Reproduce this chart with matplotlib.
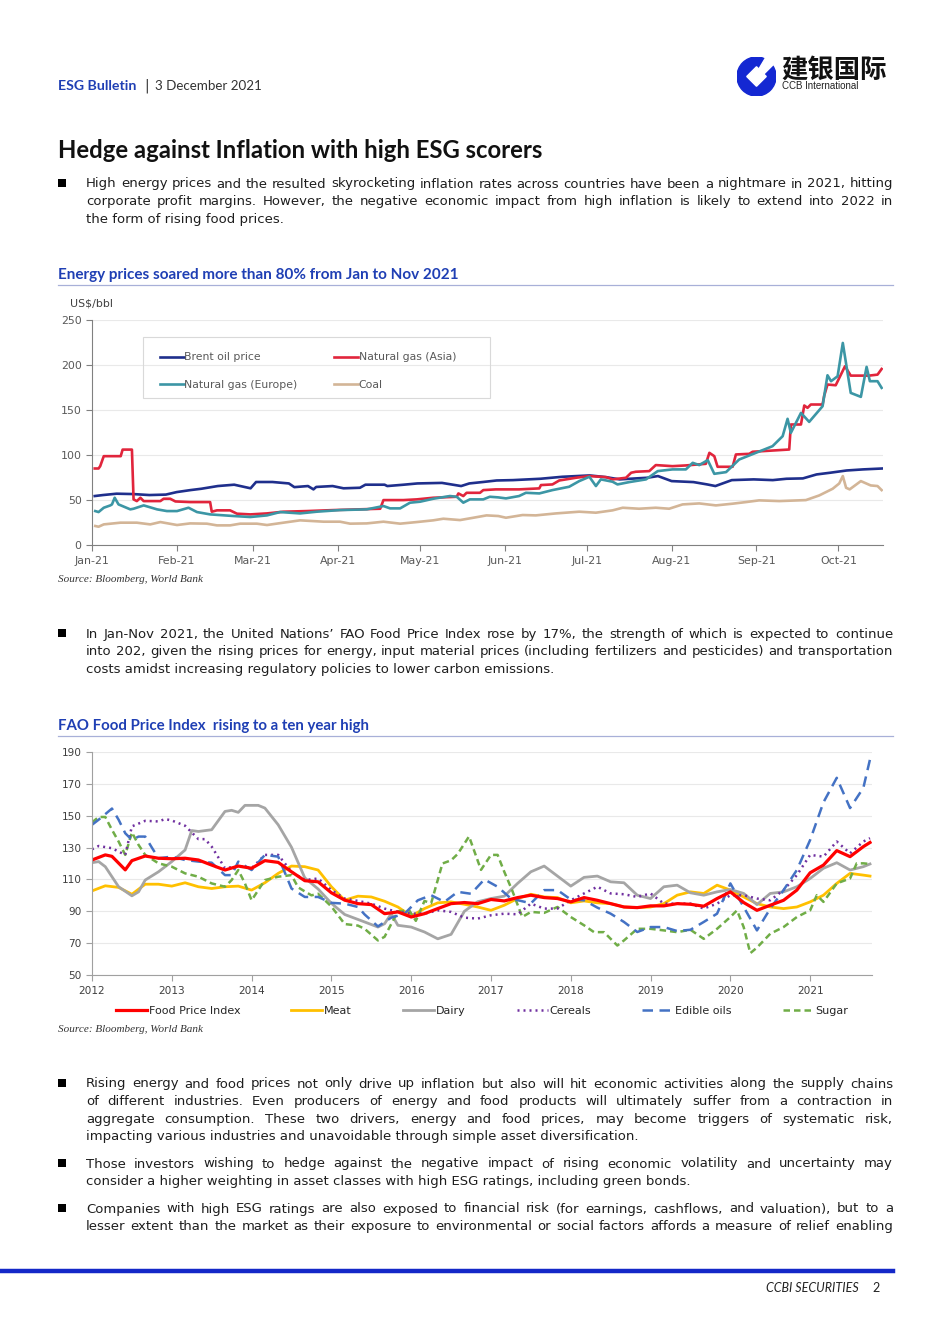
import numpy as np
import pandas as pd
import matplotlib
matplotlib.use('Agg')
import matplotlib.pyplot as plt
import matplotlib.dates as mdates
from matplotlib.patches import Circle, Polygon, Rectangle
from matplotlib.lines import Line2D

# ---------------- data: energy prices 2021 (day of year, US$/bbl) ----------------
brent = [(1, 54.4), (4, 55.5), (9, 57), (15, 56.6), (21, 55.5), (27, 56), (31, 58.8), (36, 61),
         (40, 62.5), (46, 65.5), (52, 67), (58, 63), (60, 70), (66, 70), (72, 68.4), (74, 64.3),
         (79, 65.5), (81, 61.8), (82, 64.5), (88, 65.5), (92, 63), (98, 63.6), (100, 67), (107, 67),
         (108, 65.5), (114, 67), (119, 68.4), (128, 69), (135, 65.5), (138, 68.4), (143, 70),
         (148, 71.7), (154, 72.1), (164, 73.6), (172, 75.8), (182, 77.3), (188, 75.4), (193, 72.9),
         (199, 74), (203, 74.7), (207, 76.6), (212, 71), (220, 69.9), (225, 67.3), (228, 65.5),
         (234, 72.1), (242, 72.9), (249, 72.1), (254, 73.6), (260, 74), (265, 78.4), (270, 80.3),
         (276, 82.8), (282, 84), (289, 85)]
gas_asia = [(1, 85), (2.4, 85), (3, 87.6), (4.3, 98.7), (10.5, 98.7), (11.2, 106), (14.6, 106),
            (15.2, 50.7), (16.4, 48.8), (17.7, 52.5), (18.9, 48.8), (25, 48.8), (26.2, 51.4),
            (28.6, 51.4), (30.5, 48.4), (35.9, 47.7), (43.2, 47.7), (43.8, 37), (45.7, 38.5),
            (50.5, 38.5), (53, 34.8), (57.9, 34), (64, 35.1), (70, 37), (78.6, 37.7), (88.3, 38.8),
            (105.4, 40.3), (106.6, 49.9), (113.9, 49.9), (118.8, 50.7), (124.8, 52.5), (133.4, 53.6),
            (134, 57.3), (135.8, 54.4), (137, 58), (141.9, 58), (143.1, 61), (147.7, 61.8),
            (156.2, 61.8), (163.6, 62.9), (164.2, 66.6), (168.4, 67.3), (170.9, 71.7), (177, 74.7),
            (181.9, 76.6), (188, 75.4), (190.4, 72.9), (195.3, 74.7), (197.2, 80.3), (198.9, 81.4),
            (203.8, 82.1), (206.2, 88.8), (212.3, 87.6), (217.2, 88.4), (224.5, 90.2), (225.8, 102.4),
            (227.6, 98.7), (228.8, 86.9), (234.3, 86.9), (235.5, 100.6), (240.4, 101.3),
            (241.6, 103.6), (255, 106.1), (255.6, 133.9), (259.3, 133.9), (260.5, 155), (261.7, 152.4),
            (262.9, 156.1), (267.2, 156.1), (267.8, 166), (269, 178.3), (272, 177.5), (275.4, 198.6),
            (277.5, 188.2), (284.2, 188.2), (287.3, 189.3), (288.8, 195.6)]
gas_europe = [(1.2, 37.7), (2.4, 36.6), (4.3, 41.4), (6.7, 44), (7.3, 45.1), (8.3, 52.5), (9.7, 45.1),
              (14, 39.6), (15.2, 40.3), (18.9, 44), (23.8, 39.6), (27.4, 37.7), (31.1, 37.7),
              (35.3, 41.4), (38.4, 36.6), (43.2, 34), (51.8, 32.2), (57.9, 31.1), (64, 32.9),
              (68.8, 36.6), (76.1, 35.1), (82.2, 37), (90.7, 38.8), (100.5, 39.6), (106.6, 43.3),
              (109, 40.7), (112.7, 40.7), (116.3, 47), (120, 48.1), (124.8, 51.4), (130.9, 54.4),
              (133.4, 53.6), (135.8, 47), (138.2, 50.7), (143.1, 50.7), (145.5, 53.6), (148.6, 52.9),
              (151.4, 51.8), (156.2, 54.4), (158.7, 58), (163.6, 57.3), (168.4, 61), (174.5, 64.7),
              (178.2, 71), (181.9, 75.8), (184.3, 65.5), (186.1, 72.9), (190.4, 70.3), (192.2, 67.3),
              (196.5, 69.9), (202.6, 72.9), (206.9, 82.1), (212.3, 84), (217.2, 84), (219.7, 91.3),
              (222.1, 88.8), (225.2, 94.3), (227.6, 79.1), (231.9, 81), (236.7, 95), (242.8, 102.4),
              (248.9, 109.8), (252.6, 120.9), (254.4, 140.2), (255.6, 124.6), (259.3, 146.8),
              (262.3, 136.8), (267.2, 154.2), (269, 188.6), (270.3, 182), (272.7, 187.5),
              (274.6, 224.5), (277.5, 169), (281.2, 164.6), (283.3, 197.9), (284.5, 182), (287.3, 182),
              (288.8, 174.6)]
coal = [(1.2, 21.1), (2.4, 20.3), (4.3, 22.9), (10.4, 24.8), (16.4, 24.8), (21.3, 22.9), (25, 25.5),
        (31.1, 22.2), (35.9, 24), (42, 23.7), (45.7, 21.8), (50.5, 21.8), (54.2, 23.7), (60.3, 23.7),
        (64, 22.2), (70, 24.8), (76.1, 27.4), (84.7, 25.9), (90.7, 25.9), (94.4, 23.7), (100.5, 24),
        (106.6, 25.9), (112.7, 23.7), (118.8, 25.5), (124.8, 27.4), (128.5, 29.2), (134.6, 27.7),
        (139.5, 30.3), (144.3, 32.9), (148.6, 32.2), (151.4, 30.3), (157.5, 33.3), (162.3, 32.9),
        (169.7, 35.1), (178.2, 37), (184.3, 35.9), (190.4, 38.5), (194.1, 41.4), (200.1, 40.3),
        (206.2, 41.4), (211.1, 40.3), (216, 45.1), (222.1, 46.2), (228.2, 44), (234.3, 45.9),
        (239.2, 47.7), (244, 49.6), (251.4, 48.8), (261.1, 49.9), (266, 55.1), (270.9, 62.5),
        (273.3, 68.4), (274.6, 76.6), (275.8, 63.6), (277.1, 61.8), (281.2, 71), (284.8, 66.2),
        (287.3, 65.5), (288.8, 61)]

# ---------------- data: FAO food price index (months since Jan 2012, index) ----------------
food = [(0, 122.2), (2, 125.4), (3, 124.5), (5, 116), (6, 121.8), (8, 124.7), (10, 123.3), (12, 123),
        (14, 123.3), (16, 122.2), (18, 119), (20, 115.9), (22, 118.4), (24, 117), (26, 121.8),
        (28, 120.7), (30, 114.8), (32, 109.2), (34, 108.5), (36, 101.6), (38, 97), (40, 94.8),
        (42, 94.2), (44, 88.5), (46, 89.6), (48, 86.4), (50, 88.5), (52, 91.7), (54, 94.8), (56, 95.5),
        (58, 94.8), (60, 97.4), (62, 96.5), (64, 98.6), (66, 100.1), (68, 98.6), (70, 98), (72, 95.9),
        (74, 98.6), (76, 96.9), (78, 94.8), (80, 92.7), (82, 92.3), (84, 93.4), (86, 93.4), (88, 94.8),
        (90, 94.4), (92, 93.2), (94, 98), (96, 102.2), (98, 95.5), (100, 90.6), (102, 93.8),
        (104, 96.9), (106, 103.3), (108, 114.2), (110, 119), (112, 128.1), (114, 124.3), (116, 130.6),
        (117, 133.2)]
meat = [(0, 102.8), (2, 106), (4, 105), (6, 100.7), (8, 107), (10, 107), (12, 105.8), (14, 107.9),
        (16, 105.4), (18, 104.3), (20, 105.4), (22, 105.8), (24, 103.3), (26, 107.9), (28, 113.8),
        (30, 118.4), (32, 118), (34, 115.9), (36, 105.4), (38, 97), (40, 99.5), (42, 99), (44, 96.3),
        (46, 92.7), (48, 87), (50, 91.7), (52, 95.3), (54, 95.9), (56, 94.4), (58, 92.7), (60, 90.6),
        (62, 93.8), (64, 98), (66, 100.7), (68, 99), (70, 98.6), (72, 95.3), (74, 96.5), (76, 95.3),
        (78, 94.8), (80, 92.7), (82, 92.3), (84, 92.7), (86, 94.8), (88, 100.1), (90, 102.2),
        (92, 101.2), (94, 106.4), (96, 103.3), (98, 99), (100, 94.8), (102, 92.7), (104, 91.7),
        (106, 92.7), (108, 95.9), (110, 100.1), (112, 107.5), (114, 113.8), (116, 112.7), (117, 112.1)]
dairy = [(0, 120.5), (1, 121.2), (2, 118), (4, 105.4), (6, 99.7), (7, 102.2), (8, 109.6), (10, 114.8),
         (12, 121.2), (14, 128.5), (15, 140.7), (16, 140.1), (18, 141.2), (20, 152.7), (21, 153.4),
         (22, 152.1), (23, 156.5), (25, 156.5), (26, 154.8), (28, 144.3), (30, 130.2), (32, 111),
         (34, 104), (36, 95), (38, 88), (41, 83.3), (43, 80.1), (44, 82.2), (45, 88.5), (46, 81.2),
         (48, 80.1), (50, 77), (52, 72.7), (54, 75.5), (56, 90), (58, 96), (60, 98), (62, 99.5),
         (64, 107.5), (66, 114.8), (68, 118.4), (70, 112.1), (72, 105.8), (74, 111.3), (76, 112.1),
         (78, 108.5), (80, 107.9), (82, 100.1), (84, 98), (86, 105.4), (88, 106.4), (90, 101.6),
         (92, 100.1), (94, 102.2), (96, 103.7), (98, 101.2), (100, 94.2), (102, 101.2), (104, 102.2),
         (106, 105.4), (108, 110.6), (110, 117), (112, 120.5), (114, 115.9), (116, 118), (117, 119.7)]
cereals = [(0, 128.9), (1, 131), (3, 129.6), (5, 125.4), (6, 143.3), (8, 146.8), (10, 146.4),
           (11, 147.9), (12, 147), (14, 143.7), (16, 135.3), (17, 135.3), (18, 130.6), (20, 117),
           (22, 118.4), (24, 117), (26, 125.4), (28, 125.4), (30, 114.8), (32, 109.6), (34, 110.6),
           (36, 103.3), (38, 98), (40, 96.5), (42, 94.8), (44, 91.7), (46, 89.6), (48, 88.5),
           (50, 88.5), (52, 90.6), (54, 89.6), (56, 86), (58, 85.4), (60, 87.5), (62, 88.5),
           (64, 88.1), (66, 94.8), (68, 91.7), (70, 91.7), (72, 96.9), (74, 101.2), (76, 105.4),
           (78, 101.2), (80, 100.7), (82, 99), (84, 101.2), (86, 94.8), (88, 94.8), (90, 94.8),
           (92, 91.7), (94, 94.8), (96, 100.1), (98, 100.1), (100, 98), (102, 96.9), (104, 103.3),
           (106, 112.7), (108, 125.4), (110, 124.3), (112, 133.8), (114, 126.4), (116, 133.8),
           (117, 135.9)]
oils = [(0, 144.3), (1, 147.5), (3, 154.5), (4, 147.5), (5, 139), (6, 134.8), (7, 136.9), (8, 136.9),
        (9, 130), (10, 123.3), (12, 124.3), (14, 122.2), (16, 121.2), (18, 120.5), (20, 112.7),
        (21, 112.7), (22, 121.2), (24, 115.9), (26, 125.4), (28, 124.3), (30, 104.3), (32, 99),
        (34, 99), (36, 95.3), (38, 94.8), (40, 92.7), (41, 88), (43, 80.5), (45, 86), (47, 88.5),
        (49, 96.9), (51, 100.1), (53, 95.9), (55, 102.2), (57, 101), (59, 110), (61, 105.4), (63, 98),
        (66, 95), (68, 103.3), (70, 103.3), (72, 97.4), (74, 96.9), (76, 92.3), (78, 88.5), (80, 83.3),
        (82, 77), (84, 80.1), (86, 80.1), (88, 77.6), (90, 78.4), (92, 83.3), (94, 88.5), (96, 107.5),
        (98, 92.7), (100, 78), (102, 91.7), (104, 103.3), (106, 115.9), (108, 134.8), (110, 158.4),
        (112, 173.8), (114, 154.8), (116, 167.5), (117, 185.4)]
sugar = [(0, 145.8), (1, 149.2), (2, 149.2), (3, 141.2), (4, 133.8), (5, 125.4), (6, 139.5), (7, 131.7),
         (8, 125.4), (10, 120.1), (12, 118), (14, 113.8), (16, 111.7), (18, 107.5), (20, 105.4),
         (21, 109.6), (22, 115.9), (23, 107.5), (24, 96.9), (26, 109.6), (28, 111.7), (30, 112.7),
         (31, 105), (33, 100), (34, 101), (36, 93), (38, 82), (40, 81), (41, 79), (43, 71.7), (44, 74),
         (46, 90), (47.7, 90.6), (48.7, 84), (50, 96.5), (51, 95), (52.7, 120), (54, 122), (55, 126),
         (56.7, 137), (58.5, 116), (60, 125.4), (61, 125.4), (62, 114.8), (63.2, 103), (64.7, 86.4),
         (66, 89.6), (68, 89), (70, 92.7), (72, 86.4), (74, 81.2), (75.5, 76.9), (77, 76.9), (79, 68.5),
         (80, 71.7), (82, 79), (84, 79), (86, 78), (88, 76.9), (90, 78.4), (92, 72.7), (94, 79),
         (96, 86.4), (97, 90.6), (98, 80.1), (99, 63.7), (100, 67.2), (102, 75.9), (104, 80.1),
         (106, 86.4), (108, 90.6), (109, 100.1), (110, 95.9), (112, 107.5), (114, 110.6), (115, 120.1),
         (116, 120.1), (117, 119.7)]
years = list(range(2012, 2022))

# ---------------- text ----------------
para1 = ["High energy prices and the resulted skyrocketing inflation rates across countries have been a nightmare in 2021, hitting",
         "corporate profit margins. However, the negative economic impact from high inflation is likely to extend into 2022 in",
         "the form of rising food prices."]
para2 = ["In Jan-Nov 2021, the United Nations\u2019 FAO Food Price Index rose by 17%, the strength of which is expected to continue",
         "into 202, given the rising prices for energy, input material prices (including fertilizers and pesticides) and transportation",
         "costs amidst increasing regulatory policies to lower carbon emissions."]
para3 = ["Rising energy and food prices not only drive up inflation but also will hit economic activities along the supply chains",
         "of different industries. Even producers of energy and food products will ultimately suffer from a contraction in",
         "aggregate consumption. These two drivers, energy and food prices, may become triggers of systematic risk,",
         "impacting various industries and unavoidable through simple asset diversification."]
para4 = ["Those investors wishing to hedge against the negative impact of rising economic volatility and uncertainty may",
         "consider a higher weighting in asset classes with high ESG ratings, including green bonds."]
para5 = ["Companies with high ESG ratings are also exposed to financial risk (for earnings, cashflows, and valuation), but to a",
         "lesser extent than the market as their exposure to environmental or social factors affords a measure of relief enabling"]

W, H = 950, 1344
plt.rcParams['font.family'] = ['DejaVu Sans']
fig = plt.figure(figsize=(W / 100, H / 100), dpi=100)
renderer = fig.canvas.get_renderer()
BLUE = '#1F3FB4'
INK = '#1e1e1e'
HEAD = ['Lato', 'DejaVu Sans']


def fx(x):
    return x / W


def fy(y):
    return 1 - y / H


def put(x, y, s, **kw):
    kw.setdefault('va', 'center')
    return fig.text(fx(x), fy(y), s, **kw)


# body size chosen so the first line fills the column naturally
_probe = put(0, 0, para1[0], fontsize=10)
BODY = 10 * 800 / _probe.get_window_extent(renderer).width
_probe.remove()


def bullet(y):
    fig.add_artist(Rectangle((fx(58), fy(y + 4)), 8 / W, 8 / H, transform=fig.transFigure,
                             facecolor='black', edgecolor='none'))


def paragraph(lines, y0, x0=86, x1=893, dy=17.6, justify_last=False):
    bullet(y0)
    for i, line in enumerate(lines):
        yb = y0 + i * dy + 4.5   # baseline
        if i == len(lines) - 1 and not justify_last:
            put(x0, yb, line, fontsize=BODY, color=INK, va='baseline')
            continue
        words = line.split(' ')
        ts = [put(0, yb, w, fontsize=BODY, color=INK, va='baseline') for w in words]
        ws = [t.get_window_extent(renderer).width for t in ts]
        gap = (x1 - x0 - sum(ws)) / (len(words) - 1)
        x = x0
        for t, w in zip(ts, ws):
            t.set_x(fx(x))
            x += w + gap


def hline(y, x0, x1, color, lw):
    fig.add_artist(Line2D([fx(x0), fx(x1)], [fy(y), fy(y)], color=color, lw=lw,
                          transform=fig.transFigure))


# ---------------- header ----------------
put(58, 86, 'ESG Bulletin', fontsize=10.2, weight='bold', color=BLUE, family=HEAD)
put(144, 86, '|', fontsize=10, color='#333333')
put(155, 86, '3 December 2021', fontsize=9.6, color='#333333', family=HEAD)

lax = fig.add_axes([fx(737), fy(96), 39 / W, 39 / H])
lax.set_xlim(-1, 1)
lax.set_ylim(-1, 1)
lax.axis('off')
lax.add_patch(Circle((0, 0), 1, color='#1428D2'))
lax.add_patch(Polygon([(0, 0.5), (0.5, 0), (0, -0.5), (-0.5, 0)], color='white'))
lax.add_patch(Polygon([(0.1, 0.35), (0.55, 1.1), (0.95, 0.7), (0.35, 0.1)], color='white'))
put(781, 70, '建银国际', fontsize=19, weight='bold', color='#111111',
    family=['Noto Sans CJK SC', 'DejaVu Sans'])
put(782, 86, 'CCB International', fontsize=7, color='#222222', family='Liberation Sans')

put(58, 151, 'Hedge against Inflation with high ESG scorers', fontsize=17.2, weight='bold',
    color='#111111', family=HEAD)

paragraph(para1, 183)

# ---------------- chart 1 ----------------
put(58, 275, 'Energy prices soared more than 80% from Jan to Nov 2021', fontsize=11, weight='bold',
    color=BLUE, family=HEAD)
hline(285, 58, 893, '#A8B0D8', 0.9)

start = pd.Timestamp('2021-01-01')


def to_dates(series):
    d, v = zip(*series)
    return start + pd.to_timedelta(np.array(d), unit='D'), np.array(v)


ax1 = fig.add_axes([fx(92), fy(545), (883 - 92) / W, (545 - 320) / H])
series1 = {'Coal': (coal, '#D3B597'), 'Brent oil price': (brent, '#1F2F8C'),
           'Natural gas (Asia)': (gas_asia, '#E1253C'), 'Natural gas (Europe)': (gas_europe, '#3C96A5')}
handles = {}
for lab, (s, c) in series1.items():
    d, v = to_dates(s)
    handles[lab], = ax1.plot(d, v, color=c, lw=1.9, label=lab, solid_joinstyle='round')
ax1.set_ylim(0, 250)
ax1.set_yticks(range(0, 251, 50))
ax1.set_xlim(start, start + pd.Timedelta(days=289.3))
ax1.xaxis.set_major_locator(mdates.MonthLocator())
ax1.xaxis.set_major_formatter(mdates.DateFormatter('%b-%y'))
ax1.yaxis.grid(True, color='#E9E9E9', lw=0.8)
ax1.set_axisbelow(True)
for sp in ['top', 'right']:
    ax1.spines[sp].set_visible(False)
for sp in ['left', 'bottom']:
    ax1.spines[sp].set_color('#808080')
ax1.tick_params(colors='#808080', labelcolor='#595959', labelsize=7.9, length=4, width=0.8)
ax1.tick_params(axis='x', pad=4)
# legend: filled column-wise, so this order gives Brent | Asia over Europe | Coal
order = ['Brent oil price', 'Natural gas (Europe)', 'Natural gas (Asia)', 'Coal']
ax1.legend([handles[k] for k in order], order, loc='upper left', bbox_to_anchor=(0.086, 0.856),
           ncol=2, fontsize=7.8, frameon=False, handlelength=2.2, handletextpad=0.05,
           borderaxespad=0, borderpad=0, labelspacing=1.62, columnspacing=3.4, labelcolor='#595959')
ax1.add_patch(Rectangle((0.0645, 0.653), 0.4387, 0.271, transform=ax1.transAxes, fill=False,
                        edgecolor='#D9D9D9', lw=0.8))
put(70, 304, 'US$/bbl', fontsize=7.9, color='#404040')
put(58, 580, 'Source: Bloomberg, World Bank', fontsize=8, style='italic', color='#333333',
    family='Liberation Serif')

paragraph(para2, 633)

# ---------------- chart 2 ----------------
put(58, 726, 'FAO Food Price Index  rising to a ten year high', fontsize=10.8, weight='bold',
    color=BLUE, family=HEAD)
hline(736, 58, 893, '#A8B0D8', 0.9)

ax2 = fig.add_axes([fx(92), fy(975), (872 - 92) / W, (975 - 752) / H])
styles2 = {
    'Meat': (meat, dict(color='#FFC000', lw=2.0)),
    'Dairy': (dairy, dict(color='#A5A5A5', lw=2.0)),
    'Sugar': (sugar, dict(color='#70AD47', lw=1.8, ls=(0, (2.6, 1.6)))),
    'Cereals': (cereals, dict(color='#7030A0', lw=1.8, ls=(0, (0.8, 1.6)))),
    'Edible oils': (oils, dict(color='#4472C4', lw=1.8, ls=(0, (4.2, 2.6)))),
    'Food Price Index': (food, dict(color='#FF0000', lw=2.3)),
}
h2 = {}
for lab, (s, kw) in styles2.items():
    m, v = zip(*s)
    h2[lab], = ax2.plot(m, v, label=lab, **kw)
ax2.set_ylim(50, 190)
ax2.set_yticks(range(50, 191, 20))
ax2.set_xlim(0, 117.3)
ax2.set_xticks([12 * i for i in range(len(years))])
ax2.set_xticklabels([str(y) for y in years])
ax2.yaxis.grid(True, color='#E9E9E9', lw=0.8)
ax2.set_axisbelow(True)
for sp in ['top', 'right']:
    ax2.spines[sp].set_visible(False)
for sp in ['left', 'bottom']:
    ax2.spines[sp].set_color('#A0A0A0')
ax2.tick_params(colors='#A0A0A0', labelcolor='#404040', labelsize=7.6, length=4, width=0.8)
ax2.tick_params(axis='x', pad=4)
order2 = ['Food Price Index', 'Meat', 'Dairy', 'Cereals', 'Edible oils', 'Sugar']
ax2.legend([h2[k] for k in order2], order2, loc='center', bbox_to_anchor=(0.5, -0.162), ncol=6,
           fontsize=8, frameon=False, handlelength=2.8, handletextpad=0.15, columnspacing=4.6,
           labelcolor='#262626')
put(58, 1030, 'Source: Bloomberg, World Bank', fontsize=8, style='italic', color='#333333',
    family='Liberation Serif')

paragraph(para3, 1083)
paragraph(para4, 1163)
paragraph(para5, 1208, justify_last=True)

# ---------------- footer ----------------
hline(1271, 0, 893, '#1428C8', 3.2)
put(859, 1288, 'CCBI SECURITIES', fontsize=9, style='italic', color='#222222', ha='right', family=HEAD)
put(872, 1288, '2', fontsize=9, color='#222222', family=HEAD)

fig.savefig('out.png', dpi=100)
